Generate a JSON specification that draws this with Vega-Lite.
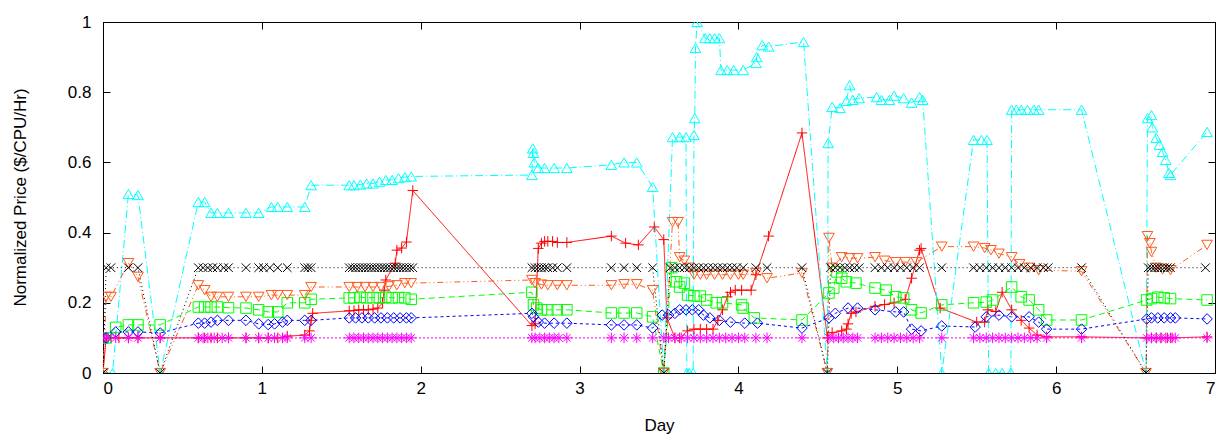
{
"$schema":"https://vega.github.io/schema/vega-lite/v6.json",
"autosize":{"type":"none"},
"padding":{"left":103,"top":22,"right":5,"bottom":64},
"width":1112,"height":351,
"config":{"view":{"stroke":"#000","strokeWidth":1},"font":"Liberation Sans",
"axis":{"grid":false,"domainColor":"#000","tickColor":"#000","tickWidth":1,"labelColor":"#000","titleColor":"#000","labelFont":"Liberation Sans","titleFont":"Liberation Sans","labelFontSize":17,"titleFontSize":17,"titleFontWeight":"normal"}},
"data":{"values":[
{"s":"s1","d":0,"p":0},{"s":"s1","d":0.02,"p":0.1},{"s":"s1","d":0.05,"p":0.1},{"s":"s1","d":0.1,"p":0.1},{"s":"s1","d":0.16,"p":0.1},{"s":"s1","d":0.22,"p":0.1},{"s":"s1","d":0.36,"p":0.1},{"s":"s1","d":0.6,"p":0.1},{"s":"s1","d":0.64,"p":0.1},{"s":"s1","d":0.68,"p":0.1},{"s":"s1","d":0.72,"p":0.1},{"s":"s1","d":0.79,"p":0.1},{"s":"s1","d":0.9,"p":0.1},{"s":"s1","d":0.98,"p":0.1},{"s":"s1","d":1.04,"p":0.1},{"s":"s1","d":1.1,"p":0.1},{"s":"s1","d":1.16,"p":0.105},{"s":"s1","d":1.27,"p":0.108},{"s":"s1","d":1.3,"p":0.12},{"s":"s1","d":1.31,"p":0.15},{"s":"s1","d":1.32,"p":0.17},{"s":"s1","d":1.55,"p":0.177},{"s":"s1","d":1.58,"p":0.178},{"s":"s1","d":1.61,"p":0.18},{"s":"s1","d":1.64,"p":0.18},{"s":"s1","d":1.67,"p":0.18},{"s":"s1","d":1.7,"p":0.182},{"s":"s1","d":1.73,"p":0.185},{"s":"s1","d":1.76,"p":0.2},{"s":"s1","d":1.77,"p":0.236},{"s":"s1","d":1.78,"p":0.265},{"s":"s1","d":1.84,"p":0.313},{"s":"s1","d":1.85,"p":0.35},{"s":"s1","d":1.88,"p":0.356},{"s":"s1","d":1.91,"p":0.373},{"s":"s1","d":1.95,"p":0.52},{"s":"s1","d":2.7,"p":0.135},{"s":"s1","d":2.72,"p":0.14},{"s":"s1","d":2.74,"p":0.355},{"s":"s1","d":2.76,"p":0.37},{"s":"s1","d":2.78,"p":0.375},{"s":"s1","d":2.8,"p":0.375},{"s":"s1","d":2.83,"p":0.375},{"s":"s1","d":2.86,"p":0.372},{"s":"s1","d":2.92,"p":0.372},{"s":"s1","d":3.2,"p":0.39},{"s":"s1","d":3.29,"p":0.37},{"s":"s1","d":3.37,"p":0.365},{"s":"s1","d":3.47,"p":0.416},{"s":"s1","d":3.53,"p":0.38},{"s":"s1","d":3.55,"p":0.157},{"s":"s1","d":3.6,"p":0.1},{"s":"s1","d":3.63,"p":0.1},{"s":"s1","d":3.68,"p":0.12},{"s":"s1","d":3.72,"p":0.125},{"s":"s1","d":3.76,"p":0.125},{"s":"s1","d":3.8,"p":0.125},{"s":"s1","d":3.84,"p":0.125},{"s":"s1","d":3.87,"p":0.15},{"s":"s1","d":3.9,"p":0.18},{"s":"s1","d":3.93,"p":0.217},{"s":"s1","d":3.95,"p":0.23},{"s":"s1","d":3.98,"p":0.236},{"s":"s1","d":4.02,"p":0.236},{"s":"s1","d":4.08,"p":0.236},{"s":"s1","d":4.11,"p":0.28},{"s":"s1","d":4.19,"p":0.39},{"s":"s1","d":4.4,"p":0.684},{"s":"s1","d":4.56,"p":0.1},{"s":"s1","d":4.59,"p":0.115},{"s":"s1","d":4.65,"p":0.12},{"s":"s1","d":4.68,"p":0.125},{"s":"s1","d":4.69,"p":0.14},{"s":"s1","d":4.71,"p":0.17},{"s":"s1","d":4.74,"p":0.174},{"s":"s1","d":4.86,"p":0.19},{"s":"s1","d":4.92,"p":0.195},{"s":"s1","d":4.98,"p":0.2},{"s":"s1","d":5.05,"p":0.21},{"s":"s1","d":5.09,"p":0.27},{"s":"s1","d":5.14,"p":0.35},{"s":"s1","d":5.15,"p":0.355},{"s":"s1","d":5.27,"p":0.185},{"s":"s1","d":5.5,"p":0.145},{"s":"s1","d":5.55,"p":0.145},{"s":"s1","d":5.57,"p":0.18},{"s":"s1","d":5.62,"p":0.175},{"s":"s1","d":5.66,"p":0.23},{"s":"s1","d":5.72,"p":0.18},{"s":"s1","d":5.78,"p":0.15},{"s":"s1","d":5.83,"p":0.128},{"s":"s1","d":5.88,"p":0.108},{"s":"s1","d":5.94,"p":0.103},{"s":"s1","d":6.16,"p":0.103},{"s":"s1","d":6.57,"p":0.1},{"s":"s1","d":6.6,"p":0.1},{"s":"s1","d":6.63,"p":0.1},{"s":"s1","d":6.66,"p":0.1},{"s":"s1","d":6.7,"p":0.1},{"s":"s1","d":6.73,"p":0.1},{"s":"s1","d":6.95,"p":0.103},

{"s":"s2","d":0,"p":0.1},{"s":"s2","d":0.02,"p":0.1},{"s":"s2","d":0.08,"p":0.13},{"s":"s2","d":0.16,"p":0.137},{"s":"s2","d":0.22,"p":0.137},{"s":"s2","d":0.36,"p":0.137},{"s":"s2","d":0.6,"p":0.188},{"s":"s2","d":0.64,"p":0.188},{"s":"s2","d":0.68,"p":0.188},{"s":"s2","d":0.72,"p":0.188},{"s":"s2","d":0.79,"p":0.186},{"s":"s2","d":0.9,"p":0.185},{"s":"s2","d":0.98,"p":0.18},{"s":"s2","d":1.04,"p":0.174},{"s":"s2","d":1.1,"p":0.174},{"s":"s2","d":1.16,"p":0.2},{"s":"s2","d":1.27,"p":0.2},{"s":"s2","d":1.31,"p":0.21},{"s":"s2","d":1.55,"p":0.214},{"s":"s2","d":1.58,"p":0.214},{"s":"s2","d":1.62,"p":0.216},{"s":"s2","d":1.66,"p":0.214},{"s":"s2","d":1.7,"p":0.215},{"s":"s2","d":1.74,"p":0.214},{"s":"s2","d":1.78,"p":0.216},{"s":"s2","d":1.82,"p":0.214},{"s":"s2","d":1.86,"p":0.215},{"s":"s2","d":1.9,"p":0.214},{"s":"s2","d":1.94,"p":0.21},{"s":"s2","d":2.7,"p":0.23},{"s":"s2","d":2.71,"p":0.194},{"s":"s2","d":2.73,"p":0.185},{"s":"s2","d":2.76,"p":0.18},{"s":"s2","d":2.8,"p":0.18},{"s":"s2","d":2.86,"p":0.18},{"s":"s2","d":2.92,"p":0.18},{"s":"s2","d":3.2,"p":0.171},{"s":"s2","d":3.28,"p":0.171},{"s":"s2","d":3.36,"p":0.171},{"s":"s2","d":3.46,"p":0.16},{"s":"s2","d":3.53,"p":0},{"s":"s2","d":3.58,"p":0.3},{"s":"s2","d":3.61,"p":0.26},{"s":"s2","d":3.63,"p":0.245},{"s":"s2","d":3.66,"p":0.256},{"s":"s2","d":3.68,"p":0.222},{"s":"s2","d":3.72,"p":0.22},{"s":"s2","d":3.76,"p":0.219},{"s":"s2","d":3.8,"p":0.208},{"s":"s2","d":3.86,"p":0.2},{"s":"s2","d":3.9,"p":0.2},{"s":"s2","d":4.02,"p":0.194},{"s":"s2","d":4.03,"p":0.185},{"s":"s2","d":4.1,"p":0.157},{"s":"s2","d":4.4,"p":0.151},{"s":"s2","d":4.57,"p":0.228},{"s":"s2","d":4.6,"p":0.242},{"s":"s2","d":4.62,"p":0.288},{"s":"s2","d":4.65,"p":0.27},{"s":"s2","d":4.68,"p":0.26},{"s":"s2","d":4.74,"p":0.256},{"s":"s2","d":4.86,"p":0.242},{"s":"s2","d":4.93,"p":0.236},{"s":"s2","d":4.99,"p":0.217},{"s":"s2","d":5.04,"p":0.214},{"s":"s2","d":5.09,"p":0.18},{"s":"s2","d":5.15,"p":0.171},{"s":"s2","d":5.28,"p":0.194},{"s":"s2","d":5.48,"p":0.2},{"s":"s2","d":5.56,"p":0.202},{"s":"s2","d":5.6,"p":0.208},{"s":"s2","d":5.72,"p":0.245},{"s":"s2","d":5.78,"p":0.217},{"s":"s2","d":5.83,"p":0.208},{"s":"s2","d":5.89,"p":0.18},{"s":"s2","d":5.94,"p":0.151},{"s":"s2","d":6.16,"p":0.151},{"s":"s2","d":6.57,"p":0.208},{"s":"s2","d":6.6,"p":0.212},{"s":"s2","d":6.64,"p":0.216},{"s":"s2","d":6.68,"p":0.214},{"s":"s2","d":6.72,"p":0.212},{"s":"s2","d":6.95,"p":0.208},

{"s":"s3","d":0,"p":0.1},{"s":"s3","d":0.02,"p":0.1},{"s":"s3","d":0.08,"p":0.117},{"s":"s3","d":0.16,"p":0.117},{"s":"s3","d":0.22,"p":0.117},{"s":"s3","d":0.36,"p":0.114},{"s":"s3","d":0.6,"p":0.142},{"s":"s3","d":0.64,"p":0.142},{"s":"s3","d":0.68,"p":0.145},{"s":"s3","d":0.72,"p":0.15},{"s":"s3","d":0.79,"p":0.15},{"s":"s3","d":0.9,"p":0.15},{"s":"s3","d":0.98,"p":0.14},{"s":"s3","d":1.04,"p":0.138},{"s":"s3","d":1.08,"p":0.14},{"s":"s3","d":1.13,"p":0.145},{"s":"s3","d":1.16,"p":0.15},{"s":"s3","d":1.27,"p":0.15},{"s":"s3","d":1.31,"p":0.15},{"s":"s3","d":1.55,"p":0.157},{"s":"s3","d":1.59,"p":0.157},{"s":"s3","d":1.63,"p":0.157},{"s":"s3","d":1.67,"p":0.157},{"s":"s3","d":1.71,"p":0.157},{"s":"s3","d":1.75,"p":0.157},{"s":"s3","d":1.79,"p":0.157},{"s":"s3","d":1.83,"p":0.157},{"s":"s3","d":1.87,"p":0.157},{"s":"s3","d":1.91,"p":0.157},{"s":"s3","d":1.94,"p":0.157},{"s":"s3","d":2.7,"p":0.17},{"s":"s3","d":2.71,"p":0.16},{"s":"s3","d":2.74,"p":0.145},{"s":"s3","d":2.78,"p":0.142},{"s":"s3","d":2.84,"p":0.142},{"s":"s3","d":2.92,"p":0.142},{"s":"s3","d":3.2,"p":0.137},{"s":"s3","d":3.28,"p":0.137},{"s":"s3","d":3.36,"p":0.137},{"s":"s3","d":3.46,"p":0.128},{"s":"s3","d":3.52,"p":0.165},{"s":"s3","d":3.56,"p":0.165},{"s":"s3","d":3.6,"p":0.17},{"s":"s3","d":3.63,"p":0.18},{"s":"s3","d":3.67,"p":0.18},{"s":"s3","d":3.71,"p":0.18},{"s":"s3","d":3.75,"p":0.18},{"s":"s3","d":3.78,"p":0.165},{"s":"s3","d":3.82,"p":0.157},{"s":"s3","d":3.88,"p":0.15},{"s":"s3","d":3.95,"p":0.145},{"s":"s3","d":4.04,"p":0.142},{"s":"s3","d":4.12,"p":0.142},{"s":"s3","d":4.4,"p":0.128},{"s":"s3","d":4.57,"p":0.157},{"s":"s3","d":4.61,"p":0.17},{"s":"s3","d":4.69,"p":0.185},{"s":"s3","d":4.75,"p":0.185},{"s":"s3","d":4.86,"p":0.18},{"s":"s3","d":4.99,"p":0.174},{"s":"s3","d":5.04,"p":0.174},{"s":"s3","d":5.09,"p":0.125},{"s":"s3","d":5.15,"p":0.12},{"s":"s3","d":5.28,"p":0.134},{"s":"s3","d":5.49,"p":0.131},{"s":"s3","d":5.56,"p":0.16},{"s":"s3","d":5.64,"p":0.165},{"s":"s3","d":5.72,"p":0.16},{"s":"s3","d":5.83,"p":0.16},{"s":"s3","d":5.89,"p":0.145},{"s":"s3","d":5.94,"p":0.125},{"s":"s3","d":6.16,"p":0.125},{"s":"s3","d":6.57,"p":0.154},{"s":"s3","d":6.6,"p":0.157},{"s":"s3","d":6.64,"p":0.157},{"s":"s3","d":6.68,"p":0.157},{"s":"s3","d":6.72,"p":0.157},{"s":"s3","d":6.75,"p":0.157},{"s":"s3","d":6.95,"p":0.154},

{"s":"s4","d":0,"p":0.1},{"s":"s4","d":0.03,"p":0.1},{"s":"s4","d":0.08,"p":0.1},{"s":"s4","d":0.16,"p":0.1},{"s":"s4","d":0.22,"p":0.1},{"s":"s4","d":0.36,"p":0.1},{"s":"s4","d":0.6,"p":0.1},{"s":"s4","d":0.63,"p":0.1},{"s":"s4","d":0.66,"p":0.1},{"s":"s4","d":0.7,"p":0.1},{"s":"s4","d":0.75,"p":0.1},{"s":"s4","d":0.79,"p":0.1},{"s":"s4","d":0.9,"p":0.1},{"s":"s4","d":0.98,"p":0.1},{"s":"s4","d":1.04,"p":0.1},{"s":"s4","d":1.08,"p":0.1},{"s":"s4","d":1.13,"p":0.1},{"s":"s4","d":1.16,"p":0.1},{"s":"s4","d":1.27,"p":0.1},{"s":"s4","d":1.31,"p":0.1},{"s":"s4","d":1.55,"p":0.1},{"s":"s4","d":1.58,"p":0.1},{"s":"s4","d":1.61,"p":0.1},{"s":"s4","d":1.64,"p":0.1},{"s":"s4","d":1.67,"p":0.1},{"s":"s4","d":1.7,"p":0.1},{"s":"s4","d":1.73,"p":0.1},{"s":"s4","d":1.76,"p":0.1},{"s":"s4","d":1.79,"p":0.1},{"s":"s4","d":1.82,"p":0.1},{"s":"s4","d":1.85,"p":0.1},{"s":"s4","d":1.88,"p":0.1},{"s":"s4","d":1.91,"p":0.1},{"s":"s4","d":1.94,"p":0.1},{"s":"s4","d":2.7,"p":0.1},{"s":"s4","d":2.72,"p":0.1},{"s":"s4","d":2.75,"p":0.1},{"s":"s4","d":2.78,"p":0.1},{"s":"s4","d":2.81,"p":0.1},{"s":"s4","d":2.84,"p":0.1},{"s":"s4","d":2.87,"p":0.1},{"s":"s4","d":2.92,"p":0.1},{"s":"s4","d":3.2,"p":0.1},{"s":"s4","d":3.28,"p":0.1},{"s":"s4","d":3.36,"p":0.1},{"s":"s4","d":3.46,"p":0.1},{"s":"s4","d":3.53,"p":0.1},{"s":"s4","d":3.56,"p":0.1},{"s":"s4","d":3.6,"p":0.1},{"s":"s4","d":3.64,"p":0.1},{"s":"s4","d":3.68,"p":0.1},{"s":"s4","d":3.72,"p":0.1},{"s":"s4","d":3.76,"p":0.1},{"s":"s4","d":3.8,"p":0.1},{"s":"s4","d":3.84,"p":0.1},{"s":"s4","d":3.88,"p":0.1},{"s":"s4","d":3.92,"p":0.1},{"s":"s4","d":3.96,"p":0.1},{"s":"s4","d":4.0,"p":0.1},{"s":"s4","d":4.04,"p":0.1},{"s":"s4","d":4.11,"p":0.1},{"s":"s4","d":4.18,"p":0.1},{"s":"s4","d":4.4,"p":0.1},{"s":"s4","d":4.57,"p":0.1},{"s":"s4","d":4.6,"p":0.1},{"s":"s4","d":4.63,"p":0.1},{"s":"s4","d":4.66,"p":0.1},{"s":"s4","d":4.69,"p":0.1},{"s":"s4","d":4.72,"p":0.1},{"s":"s4","d":4.75,"p":0.1},{"s":"s4","d":4.86,"p":0.1},{"s":"s4","d":4.9,"p":0.1},{"s":"s4","d":4.94,"p":0.1},{"s":"s4","d":4.98,"p":0.1},{"s":"s4","d":5.02,"p":0.1},{"s":"s4","d":5.06,"p":0.1},{"s":"s4","d":5.1,"p":0.1},{"s":"s4","d":5.14,"p":0.1},{"s":"s4","d":5.28,"p":0.1},{"s":"s4","d":5.48,"p":0.1},{"s":"s4","d":5.52,"p":0.1},{"s":"s4","d":5.56,"p":0.1},{"s":"s4","d":5.6,"p":0.1},{"s":"s4","d":5.64,"p":0.1},{"s":"s4","d":5.68,"p":0.1},{"s":"s4","d":5.72,"p":0.1},{"s":"s4","d":5.76,"p":0.1},{"s":"s4","d":5.8,"p":0.1},{"s":"s4","d":5.84,"p":0.1},{"s":"s4","d":5.88,"p":0.1},{"s":"s4","d":5.94,"p":0.1},{"s":"s4","d":6.16,"p":0.1},{"s":"s4","d":6.57,"p":0.1},{"s":"s4","d":6.6,"p":0.1},{"s":"s4","d":6.63,"p":0.1},{"s":"s4","d":6.66,"p":0.1},{"s":"s4","d":6.69,"p":0.1},{"s":"s4","d":6.72,"p":0.1},{"s":"s4","d":6.75,"p":0.1},{"s":"s4","d":6.95,"p":0.1},

{"s":"s5","d":0,"p":0},{"s":"s5","d":0.06,"p":0},{"s":"s5","d":0.16,"p":0.51},{"s":"s5","d":0.22,"p":0.507},{"s":"s5","d":0.36,"p":0},{"s":"s5","d":0.6,"p":0.487},{"s":"s5","d":0.64,"p":0.487},{"s":"s5","d":0.68,"p":0.456},{"s":"s5","d":0.72,"p":0.456},{"s":"s5","d":0.79,"p":0.456},{"s":"s5","d":0.9,"p":0.456},{"s":"s5","d":0.98,"p":0.456},{"s":"s5","d":1.06,"p":0.473},{"s":"s5","d":1.1,"p":0.473},{"s":"s5","d":1.16,"p":0.473},{"s":"s5","d":1.27,"p":0.473},{"s":"s5","d":1.31,"p":0.535},{"s":"s5","d":1.55,"p":0.535},{"s":"s5","d":1.58,"p":0.535},{"s":"s5","d":1.62,"p":0.537},{"s":"s5","d":1.66,"p":0.54},{"s":"s5","d":1.7,"p":0.54},{"s":"s5","d":1.74,"p":0.545},{"s":"s5","d":1.78,"p":0.55},{"s":"s5","d":1.82,"p":0.55},{"s":"s5","d":1.86,"p":0.555},{"s":"s5","d":1.9,"p":0.558},{"s":"s5","d":1.94,"p":0.56},{"s":"s5","d":2.7,"p":0.564},{"s":"s5","d":2.705,"p":0.64},{"s":"s5","d":2.71,"p":0.627},{"s":"s5","d":2.715,"p":0.6},{"s":"s5","d":2.74,"p":0.584},{"s":"s5","d":2.78,"p":0.584},{"s":"s5","d":2.84,"p":0.584},{"s":"s5","d":2.92,"p":0.584},{"s":"s5","d":3.2,"p":0.593},{"s":"s5","d":3.28,"p":0.6},{"s":"s5","d":3.36,"p":0.6},{"s":"s5","d":3.46,"p":0.53},{"s":"s5","d":3.53,"p":0},{"s":"s5","d":3.585,"p":0.672},{"s":"s5","d":3.63,"p":0.672},{"s":"s5","d":3.67,"p":0.672},{"s":"s5","d":3.675,"p":0},{"s":"s5","d":3.69,"p":0},{"s":"s5","d":3.715,"p":0},{"s":"s5","d":3.72,"p":0.678},{"s":"s5","d":3.725,"p":0.726},{"s":"s5","d":3.73,"p":0.926},{"s":"s5","d":3.74,"p":1.0},{"s":"s5","d":3.79,"p":0.954},{"s":"s5","d":3.82,"p":0.954},{"s":"s5","d":3.85,"p":0.954},{"s":"s5","d":3.88,"p":0.954},{"s":"s5","d":3.89,"p":0.863},{"s":"s5","d":3.93,"p":0.863},{"s":"s5","d":3.97,"p":0.863},{"s":"s5","d":4.03,"p":0.863},{"s":"s5","d":4.11,"p":0.883},{"s":"s5","d":4.115,"p":0.9},{"s":"s5","d":4.15,"p":0.934},{"s":"s5","d":4.19,"p":0.93},{"s":"s5","d":4.41,"p":0.943},{"s":"s5","d":4.56,"p":0},{"s":"s5","d":4.565,"p":0.655},{"s":"s5","d":4.59,"p":0.758},{"s":"s5","d":4.64,"p":0.755},{"s":"s5","d":4.68,"p":0.775},{"s":"s5","d":4.7,"p":0.82},{"s":"s5","d":4.72,"p":0.778},{"s":"s5","d":4.76,"p":0.783},{"s":"s5","d":4.87,"p":0.786},{"s":"s5","d":4.9,"p":0.778},{"s":"s5","d":4.95,"p":0.778},{"s":"s5","d":4.98,"p":0.79},{"s":"s5","d":5.04,"p":0.783},{"s":"s5","d":5.09,"p":0.77},{"s":"s5","d":5.14,"p":0.786},{"s":"s5","d":5.16,"p":0.778},{"s":"s5","d":5.28,"p":0},{"s":"s5","d":5.48,"p":0.664},{"s":"s5","d":5.53,"p":0.664},{"s":"s5","d":5.565,"p":0.664},{"s":"s5","d":5.575,"p":0},{"s":"s5","d":5.62,"p":0},{"s":"s5","d":5.66,"p":0},{"s":"s5","d":5.715,"p":0},{"s":"s5","d":5.72,"p":0.75},{"s":"s5","d":5.75,"p":0.75},{"s":"s5","d":5.78,"p":0.75},{"s":"s5","d":5.82,"p":0.75},{"s":"s5","d":5.86,"p":0.75},{"s":"s5","d":5.89,"p":0.75},{"s":"s5","d":6.16,"p":0.75},{"s":"s5","d":6.566,"p":0},{"s":"s5","d":6.575,"p":0.726},{"s":"s5","d":6.6,"p":0.735},{"s":"s5","d":6.605,"p":0.7},{"s":"s5","d":6.63,"p":0.67},{"s":"s5","d":6.65,"p":0.65},{"s":"s5","d":6.67,"p":0.63},{"s":"s5","d":6.69,"p":0.607},{"s":"s5","d":6.71,"p":0.57},{"s":"s5","d":6.72,"p":0.564},{"s":"s5","d":6.95,"p":0.687},

{"s":"s6","d":0,"p":0},{"s":"s6","d":0.02,"p":0.217},{"s":"s6","d":0.05,"p":0.217},{"s":"s6","d":0.16,"p":0.313},{"s":"s6","d":0.22,"p":0.274},{"s":"s6","d":0.36,"p":0},{"s":"s6","d":0.6,"p":0.25},{"s":"s6","d":0.64,"p":0.236},{"s":"s6","d":0.68,"p":0.217},{"s":"s6","d":0.72,"p":0.217},{"s":"s6","d":0.79,"p":0.217},{"s":"s6","d":0.9,"p":0.217},{"s":"s6","d":0.98,"p":0.217},{"s":"s6","d":1.06,"p":0.222},{"s":"s6","d":1.1,"p":0.222},{"s":"s6","d":1.16,"p":0.222},{"s":"s6","d":1.27,"p":0.222},{"s":"s6","d":1.31,"p":0.245},{"s":"s6","d":1.55,"p":0.245},{"s":"s6","d":1.6,"p":0.245},{"s":"s6","d":1.65,"p":0.245},{"s":"s6","d":1.7,"p":0.245},{"s":"s6","d":1.75,"p":0.245},{"s":"s6","d":1.8,"p":0.247},{"s":"s6","d":1.85,"p":0.25},{"s":"s6","d":1.9,"p":0.256},{"s":"s6","d":1.94,"p":0.256},{"s":"s6","d":2.7,"p":0.265},{"s":"s6","d":2.72,"p":0.256},{"s":"s6","d":2.76,"p":0.252},{"s":"s6","d":2.8,"p":0.25},{"s":"s6","d":2.86,"p":0.25},{"s":"s6","d":2.92,"p":0.25},{"s":"s6","d":3.2,"p":0.25},{"s":"s6","d":3.28,"p":0.253},{"s":"s6","d":3.36,"p":0.253},{"s":"s6","d":3.46,"p":0.236},{"s":"s6","d":3.53,"p":0},{"s":"s6","d":3.585,"p":0.43},{"s":"s6","d":3.62,"p":0.43},{"s":"s6","d":3.63,"p":0.33},{"s":"s6","d":3.66,"p":0.32},{"s":"s6","d":3.69,"p":0.3},{"s":"s6","d":3.72,"p":0.28},{"s":"s6","d":3.76,"p":0.28},{"s":"s6","d":3.8,"p":0.28},{"s":"s6","d":3.85,"p":0.28},{"s":"s6","d":3.9,"p":0.28},{"s":"s6","d":3.95,"p":0.28},{"s":"s6","d":4.0,"p":0.28},{"s":"s6","d":4.03,"p":0.28},{"s":"s6","d":4.11,"p":0.285},{"s":"s6","d":4.18,"p":0.27},{"s":"s6","d":4.4,"p":0.285},{"s":"s6","d":4.56,"p":0},{"s":"s6","d":4.57,"p":0.385},{"s":"s6","d":4.59,"p":0.3},{"s":"s6","d":4.65,"p":0.33},{"s":"s6","d":4.7,"p":0.327},{"s":"s6","d":4.75,"p":0.327},{"s":"s6","d":4.86,"p":0.33},{"s":"s6","d":4.92,"p":0.32},{"s":"s6","d":4.99,"p":0.316},{"s":"s6","d":5.05,"p":0.316},{"s":"s6","d":5.12,"p":0.316},{"s":"s6","d":5.28,"p":0.36},{"s":"s6","d":5.48,"p":0.36},{"s":"s6","d":5.55,"p":0.356},{"s":"s6","d":5.59,"p":0.35},{"s":"s6","d":5.64,"p":0.34},{"s":"s6","d":5.72,"p":0.33},{"s":"s6","d":5.77,"p":0.31},{"s":"s6","d":5.83,"p":0.3},{"s":"s6","d":5.89,"p":0.293},{"s":"s6","d":6.16,"p":0.29},{"s":"s6","d":6.566,"p":0},{"s":"s6","d":6.575,"p":0.39},{"s":"s6","d":6.59,"p":0.37},{"s":"s6","d":6.6,"p":0.345},{"s":"s6","d":6.63,"p":0.3},{"s":"s6","d":6.67,"p":0.295},{"s":"s6","d":6.72,"p":0.293},{"s":"s6","d":6.95,"p":0.365},

{"s":"s7","d":0,"p":0},{"s":"s7","d":0.02,"p":0.3},{"s":"s7","d":0.05,"p":0.3},{"s":"s7","d":0.16,"p":0.3},{"s":"s7","d":0.22,"p":0.3},{"s":"s7","d":0.36,"p":0},{"s":"s7","d":0.6,"p":0.3},{"s":"s7","d":0.63,"p":0.3},{"s":"s7","d":0.66,"p":0.3},{"s":"s7","d":0.69,"p":0.3},{"s":"s7","d":0.72,"p":0.3},{"s":"s7","d":0.76,"p":0.3},{"s":"s7","d":0.79,"p":0.3},{"s":"s7","d":0.9,"p":0.3},{"s":"s7","d":0.98,"p":0.3},{"s":"s7","d":1.01,"p":0.3},{"s":"s7","d":1.05,"p":0.3},{"s":"s7","d":1.1,"p":0.3},{"s":"s7","d":1.16,"p":0.3},{"s":"s7","d":1.27,"p":0.3},{"s":"s7","d":1.29,"p":0.3},{"s":"s7","d":1.31,"p":0.3},{"s":"s7","d":1.55,"p":0.3},{"s":"s7","d":1.57,"p":0.3},{"s":"s7","d":1.59,"p":0.3},{"s":"s7","d":1.61,"p":0.3},{"s":"s7","d":1.63,"p":0.3},{"s":"s7","d":1.65,"p":0.3},{"s":"s7","d":1.67,"p":0.3},{"s":"s7","d":1.69,"p":0.3},{"s":"s7","d":1.71,"p":0.3},{"s":"s7","d":1.73,"p":0.3},{"s":"s7","d":1.75,"p":0.3},{"s":"s7","d":1.77,"p":0.3},{"s":"s7","d":1.79,"p":0.3},{"s":"s7","d":1.81,"p":0.3},{"s":"s7","d":1.83,"p":0.3},{"s":"s7","d":1.85,"p":0.3},{"s":"s7","d":1.87,"p":0.3},{"s":"s7","d":1.89,"p":0.3},{"s":"s7","d":1.91,"p":0.3},{"s":"s7","d":1.93,"p":0.3},{"s":"s7","d":1.95,"p":0.3},{"s":"s7","d":2.7,"p":0.3},{"s":"s7","d":2.72,"p":0.3},{"s":"s7","d":2.74,"p":0.3},{"s":"s7","d":2.76,"p":0.3},{"s":"s7","d":2.78,"p":0.3},{"s":"s7","d":2.8,"p":0.3},{"s":"s7","d":2.83,"p":0.3},{"s":"s7","d":2.86,"p":0.3},{"s":"s7","d":2.92,"p":0.3},{"s":"s7","d":3.2,"p":0.3},{"s":"s7","d":3.28,"p":0.3},{"s":"s7","d":3.36,"p":0.3},{"s":"s7","d":3.46,"p":0.3},{"s":"s7","d":3.53,"p":0},{"s":"s7","d":3.57,"p":0.3},{"s":"s7","d":3.6,"p":0.3},{"s":"s7","d":3.63,"p":0.3},{"s":"s7","d":3.66,"p":0.3},{"s":"s7","d":3.69,"p":0.3},{"s":"s7","d":3.72,"p":0.3},{"s":"s7","d":3.75,"p":0.3},{"s":"s7","d":3.78,"p":0.3},{"s":"s7","d":3.81,"p":0.3},{"s":"s7","d":3.84,"p":0.3},{"s":"s7","d":3.87,"p":0.3},{"s":"s7","d":3.9,"p":0.3},{"s":"s7","d":3.93,"p":0.3},{"s":"s7","d":3.96,"p":0.3},{"s":"s7","d":3.99,"p":0.3},{"s":"s7","d":4.03,"p":0.3},{"s":"s7","d":4.11,"p":0.3},{"s":"s7","d":4.18,"p":0.3},{"s":"s7","d":4.4,"p":0.3},{"s":"s7","d":4.56,"p":0},{"s":"s7","d":4.58,"p":0.3},{"s":"s7","d":4.61,"p":0.3},{"s":"s7","d":4.64,"p":0.3},{"s":"s7","d":4.67,"p":0.3},{"s":"s7","d":4.7,"p":0.3},{"s":"s7","d":4.73,"p":0.3},{"s":"s7","d":4.76,"p":0.3},{"s":"s7","d":4.86,"p":0.3},{"s":"s7","d":4.9,"p":0.3},{"s":"s7","d":4.94,"p":0.3},{"s":"s7","d":4.98,"p":0.3},{"s":"s7","d":5.02,"p":0.3},{"s":"s7","d":5.06,"p":0.3},{"s":"s7","d":5.1,"p":0.3},{"s":"s7","d":5.14,"p":0.3},{"s":"s7","d":5.28,"p":0.3},{"s":"s7","d":5.48,"p":0.3},{"s":"s7","d":5.52,"p":0.3},{"s":"s7","d":5.56,"p":0.3},{"s":"s7","d":5.6,"p":0.3},{"s":"s7","d":5.64,"p":0.3},{"s":"s7","d":5.68,"p":0.3},{"s":"s7","d":5.72,"p":0.3},{"s":"s7","d":5.76,"p":0.3},{"s":"s7","d":5.8,"p":0.3},{"s":"s7","d":5.84,"p":0.3},{"s":"s7","d":5.88,"p":0.3},{"s":"s7","d":5.92,"p":0.3},{"s":"s7","d":5.95,"p":0.3},{"s":"s7","d":6.16,"p":0.3},{"s":"s7","d":6.566,"p":0},{"s":"s7","d":6.58,"p":0.3},{"s":"s7","d":6.6,"p":0.3},{"s":"s7","d":6.62,"p":0.3},{"s":"s7","d":6.64,"p":0.3},{"s":"s7","d":6.66,"p":0.3},{"s":"s7","d":6.68,"p":0.3},{"s":"s7","d":6.7,"p":0.3},{"s":"s7","d":6.72,"p":0.3},{"s":"s7","d":6.94,"p":0.3}
]},
"layer":[
{"mark":{"type":"line","strokeWidth":1,"clip":true},
 "encoding":{
  "x":{"field":"d","type":"quantitative","scale":{"domain":[0,7],"nice":false,"zero":false},
   "axis":{"orient":"bottom","values":[0,1,2,3,4,5,6,7],"format":"d","tickSize":-7,"labelPadding":14,"title":"Day","titleY":52,"titleBaseline":"middle","titleX":556}},
  "y":{"field":"p","type":"quantitative","scale":{"domain":[0,1],"nice":false},
   "axis":{"orient":"left","values":[0,0.2,0.4,0.6,0.8,1],"format":"~g","tickSize":-7,"labelPadding":19,"title":"Normalized Price ($/CPU/Hr)","titleX":-83,"titleY":175,"titleAngle":-90,"titleAlign":"center","titleBaseline":"middle"}},
  "color":{"field":"s","type":"nominal","legend":null,"scale":{"domain":["s1","s2","s3","s4","s5","s6","s7"],"range":["#ff0000","#00ff00","#0000ff","#ff00ff","#00ffff","#ff5a1a","#000000"]}},
  "strokeDash":{"field":"s","type":"nominal","legend":null,"scale":{"domain":["s1","s2","s3","s4","s5","s6","s7"],"range":[[1,0],[6,4],[3,3],[2,2],[8,3,1,3],[6,3,1,3,1,3],[1,3]]}}
 }},
{"mark":{"type":"point","filled":false,"strokeWidth":1,"opacity":1,"clip":true},
 "encoding":{
  "x":{"field":"d","type":"quantitative","axis":null},
  "y":{"field":"p","type":"quantitative","axis":null},
  "color":{"field":"s","type":"nominal","legend":null},
  "size":{"field":"s","type":"nominal","legend":null,"scale":{"domain":["s1","s2","s3","s4","s5","s6","s7"],"range":[110,115,130,110,150,150,100]}},
  "shape":{"field":"s","type":"nominal","legend":null,"scale":{"domain":["s1","s2","s3","s4","s5","s6","s7"],"range":["M-1,0L1,0M0,-1L0,1","square","diamond","M-1,0L1,0M0,-1L0,1M-0.7,-0.7L0.7,0.7M-0.7,0.7L0.7,-0.7","triangle-up","triangle-down","M-0.8,-0.8L0.8,0.8M-0.8,0.8L0.8,-0.8"]}}
 }},
{"mark":{"type":"point","opacity":0},
 "encoding":{
  "x":{"field":"d","type":"quantitative","axis":{"orient":"top","values":[0,1,2,3,4,5,6,7],"labels":false,"tickSize":-7,"title":null}},
  "y":{"field":"p","type":"quantitative","axis":{"orient":"right","values":[0,0.2,0.4,0.6,0.8,1],"labels":false,"tickSize":-7,"title":null}}
 }}
],
"resolve":{"axis":{"x":"independent","y":"independent"}}
}
